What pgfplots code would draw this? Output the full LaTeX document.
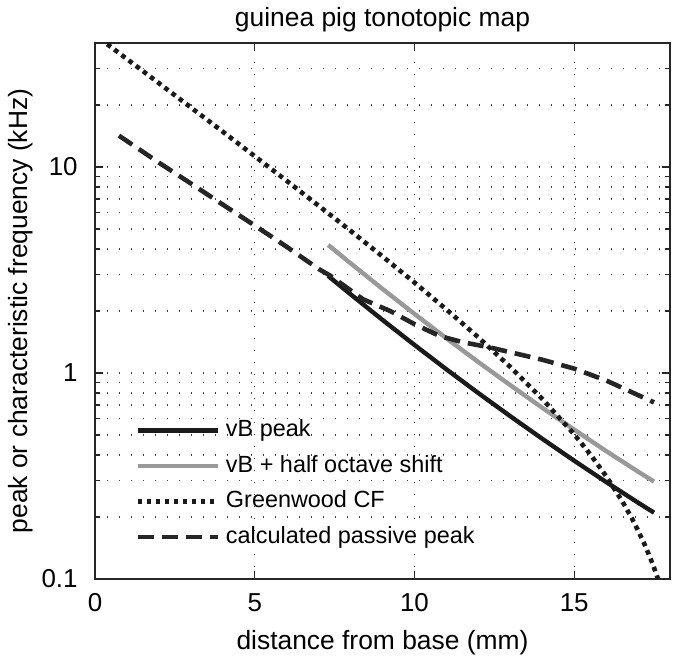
\documentclass[border=0pt]{standalone}
\usepackage{pgfplots}
\pgfplotsset{compat=1.18}
\usepackage{fontspec}
\setmainfont{Liberation Sans}
\definecolor{cblack}{HTML}{1A1A1A}
\definecolor{cgray}{HTML}{999999}
\definecolor{cgrid}{HTML}{444444}
\begin{document}
\begin{tikzpicture}
\begin{axis}[
  scale only axis, width=287.5bp, height=268bp,
  xmin=0, xmax=18, ymin=0.1, ymax=40, ymode=log,
  xtick={0,5,10,15}, xticklabels={0,5,10,15},
  ytick={0.1,1,10}, yticklabels={0.1,1,10},
  minor ytick={0.2,0.3,0.4,0.5,0.6,0.7,0.8,0.9,2,3,4,5,6,7,8,9,20,30,40},
  grid=both,
  major grid style={cgrid, line width=0.6bp, dash pattern=on 0.6bp off 5.4bp},
  minor grid style={cgrid, line width=0.6bp, dash pattern=on 0.6bp off 5.4bp},
  axis line style={line width=0.6bp, black!85},
  major tick style={black!85, line width=0.6bp},
  minor tick style={black!85, line width=0.6bp},
  major tick length=4bp, minor tick length=2.5bp,
  tick align=inside,
  ticklabel style={font=\fontsize{13}{15}\selectfont},
  xticklabel style={inner sep=0pt, anchor=north, yshift=-7bp},
  yticklabel style={inner sep=0pt, anchor=east, xshift=-8.5bp},
  title={guinea pig tonotopic map},
  title style={font=\fontsize{13.25}{15}\selectfont, at={(axis description cs:0.5,1)}, anchor=base, yshift=2.5bp, inner sep=0pt},
  xlabel={distance from base (mm)},
  xlabel style={font=\fontsize{13.25}{15}\selectfont, at={(axis description cs:0.5,0)}, anchor=base, yshift=-35.5bp, inner sep=0pt},
  ylabel={peak or characteristic frequency (kHz)},
  ylabel style={font=\fontsize{13.25}{15}\selectfont, at={(axis description cs:0,0.5)}, anchor=base, yshift=33.5bp, inner sep=0pt},
  legend cell align=left,
  legend image code/.code={\draw[#1] (0bp,0bp) -- (40bp,0bp);},
  legend style={draw=none, fill=none, inner sep=0pt, at={(axis description cs:0,0)}, anchor=south west, xshift=20bp, yshift=12bp,
    font=\fontsize{11.75}{14}\selectfont, column sep=3bp, row sep=0pt,
    nodes={inner sep=0pt, text height=12bp, text depth=5.75bp}},
]
\coordinate (SW) at (rel axis cs:0,0);
\coordinate (NE) at (rel axis cs:1,1);
% vB peak
\addplot[cblack, line width=2.2bp] coordinates {
(7.3,2.958) (8,2.411) (9,1.810) (10,1.369) (11,1.042) (12,0.799) (13,0.617) (14,0.4795) (15,0.3753) (16,0.2957) (17,0.2347) (17.5,0.2099)};
\addlegendentry{vB peak}
% vB + half octave shift
\addplot[cgray, line width=2.2bp] coordinates {
(7.3,4.183) (8,3.410) (9,2.560) (10,1.936) (11,1.474) (12,1.130) (13,0.873) (14,0.678) (15,0.531) (16,0.418) (17,0.332) (17.5,0.297)};
\addlegendentry{vB + half octave shift}
% Greenwood CF
\addplot[cblack, line width=2.3bp, dash pattern=on 2.3bp off 2.2bp] coordinates {
(0.38,39.5) (1,33.44) (2,25.53) (3,19.47) (4,14.84) (5,11.29) (6,8.57) (7,6.49) (8,4.90) (9,3.68) (10,2.750) (11,2.035) (12,1.489) (13,1.070) (14,0.749) (15,0.504) (15.5,0.4036) (16,0.316) (16.5,0.239) (16.8,0.198) (17,0.172) (17.2,0.1477) (17.4,0.1246) (17.5,0.1134) (17.6,0.1026) (17.65,0.0972)};
\addlegendentry{Greenwood CF}
% calculated passive peak
\addplot[cblack!95, line width=2.3bp, dash pattern=on 8bp off 4bp] coordinates {
(0.75,14.2) (2,10.5) (3,8.32) (4,6.57) (5,5.2) (6,4.1) (7,3.2) (7.36,2.97) (8.39,2.28) (9.24,2.0) (10.02,1.72) (10.8,1.51) (11.52,1.41) (12.37,1.33) (13.3,1.23) (14,1.16) (15,1.05) (16,0.92) (17.5,0.72)};
\addlegendentry{calculated passive peak}
\end{axis}
\pgfresetboundingbox
\path ([xshift=-47.5bp,yshift=-41bp]SW) rectangle ([xshift=2.5bp,yshift=21.5bp]NE);
\end{tikzpicture}
\end{document}
